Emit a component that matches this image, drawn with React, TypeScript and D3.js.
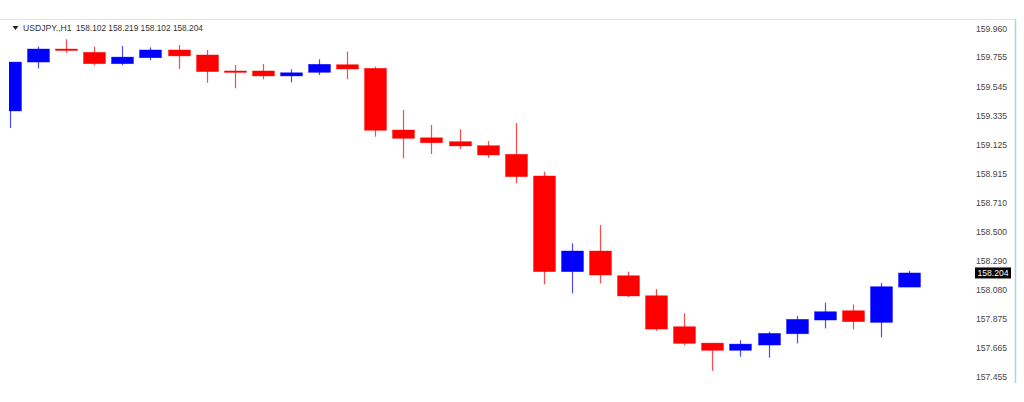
import React from "react";
import * as d3 from "d3";

const opens = [159.370, 159.722, 159.816, 159.792, 159.710, 159.753, 159.809, 159.773, 159.658, 159.658, 159.622, 159.648, 159.703, 159.677, 159.233, 159.177, 159.149, 159.120, 159.058, 158.902, 158.213, 158.362, 158.184, 158.040, 157.817, 157.699, 157.647, 157.685, 157.766, 157.865, 157.932, 157.848, 158.102];
const highs = [159.722, 159.833, 159.886, 159.833, 159.838, 159.828, 159.845, 159.809, 159.701, 159.708, 159.670, 159.742, 159.797, 159.689, 159.377, 159.269, 159.238, 159.154, 159.283, 158.933, 158.417, 158.549, 158.213, 158.088, 157.913, 157.699, 157.719, 157.781, 157.894, 157.990, 157.978, 158.133, 158.219];
const lows = [159.247, 159.677, 159.789, 159.699, 159.699, 159.735, 159.672, 159.573, 159.533, 159.598, 159.576, 159.629, 159.598, 159.185, 159.029, 159.060, 159.096, 159.033, 158.849, 158.122, 158.057, 158.129, 158.030, 157.788, 157.683, 157.500, 157.601, 157.594, 157.697, 157.805, 157.798, 157.740, 158.102];
const closes = [159.722, 159.816, 159.809, 159.710, 159.758, 159.809, 159.766, 159.653, 159.650, 159.622, 159.645, 159.706, 159.672, 159.231, 159.173, 159.141, 159.118, 159.053, 158.897, 158.213, 158.362, 158.189, 158.038, 157.800, 157.697, 157.647, 157.692, 157.769, 157.870, 157.925, 157.853, 158.105, 158.204];
const tickLabels = ["159.960", "159.755", "159.545", "159.335", "159.125", "158.915", "158.710", "158.500", "158.290", "158.080", "157.875", "157.665", "157.455"];
const symbol = "USDJPY.,H1";
const ohlcText = "158.102 158.219 158.102 158.204";
const lastPrice = 158.204;

const W = 1024;
const H = 402;

export default function App() {
  const y = d3.scaleLinear().domain([157.455, 159.96]).range([377, 29]);
  const x = d3.scaleLinear().domain([0, opens.length - 1]).range([10, 909]);
  const bw = 22;
  const font = "'Liberation Sans', Arial, sans-serif";
  const ly = y(lastPrice);
  return (
    <div style={{ position: "fixed", left: 0, top: 0, width: W, height: H, background: "#fff" }}>
      <svg width={W} height={H} style={{ display: "block" }}>
        <defs>
          <clipPath id="plotClip">
            <rect x={9} y={20} width={960} height={370} />
          </clipPath>
        </defs>
        <rect x={0} y={0} width={W} height={H} fill="#fff" />
        <line x1={0} x2={1016} y1={19.5} y2={19.5} stroke="#e2e2e2" strokeWidth={1} />
        <line x1={1015.5} x2={1015.5} y1={19} y2={383} stroke="#a9d3ea" strokeWidth={1.5} />
        <g clipPath="url(#plotClip)">
          {opens.map((o, i) => {
            const c = closes[i];
            const bull = c >= o;
            const col = bull ? "#0000ff" : "#ff0000";
            const wick = bull ? "#4a4aff" : "#ff4a4a";
            const cx = Math.round(x(i)) + 0.5;
            const top = y(Math.max(o, c));
            const bot = y(Math.min(o, c));
            const h = Math.max(1.5, bot - top);
            return (
              <g key={i}>
                <line x1={cx} x2={cx} y1={y(highs[i])} y2={y(lows[i])} stroke={wick} strokeWidth={1.2} />
                <rect x={cx - bw / 2} y={top} width={bw} height={h} fill={col} stroke={col} strokeWidth={0.6} strokeOpacity={0.6} />
              </g>
            );
          })}
        </g>
        {tickLabels.map((t) => (
          <text key={t} x={1007} y={y(+t)} dy="0.35em" textAnchor="end" fontSize={8.6} fontFamily={font} fill="#444">
            {t}
          </text>
        ))}
        <rect x={975} y={ly - 5.5} width={36} height={11} fill="#000" />
        <text x={993} y={ly} dy="0.35em" textAnchor="middle" fontSize={8.6} fontFamily={font} fill="#fff">
          {lastPrice.toFixed(3)}
        </text>
        <path d="M12.5,26 L18.5,26 L15.5,30 Z" fill="#222" />
        <text x={23} y={28} dy="0.35em" fontSize={8.6} fontFamily={font} fill="#333">
          {symbol}
        </text>
        <text x={76} y={28} dy="0.35em" fontSize={8.3} fontFamily={font} fill="#333">
          {ohlcText}
        </text>
      </svg>
    </div>
  );
}
